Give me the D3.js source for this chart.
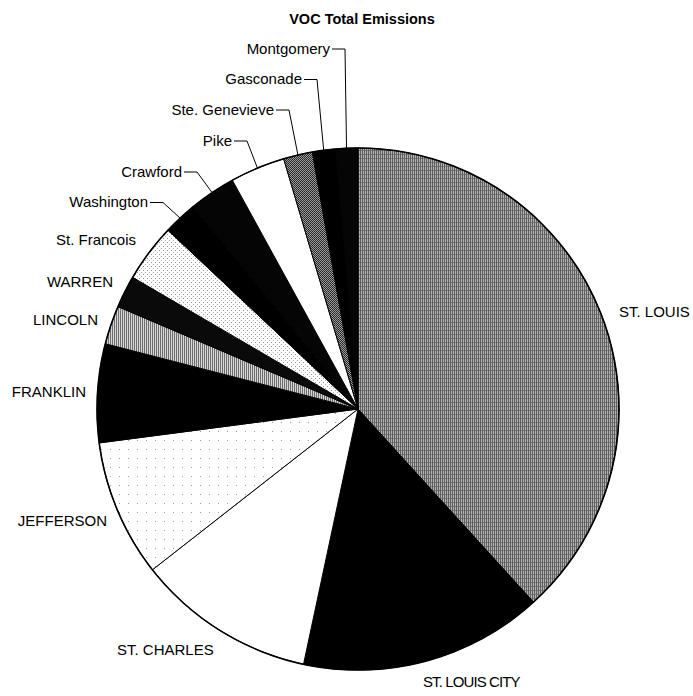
<!DOCTYPE html>
<html>
<head>
<meta charset="utf-8">
<script src="https://cdn.jsdelivr.net/npm/d3@7"></script>
<style>
  html, body { margin: 0; padding: 0; background: #fff; }
  svg { display: block; }
  text { font-family: "Liberation Sans", Arial, sans-serif; fill: #000; }
</style>
</head>
<body>
<div id="chart"></div>
<script>
// ---- data (share of total VOC emissions, %) ----
const title = "VOC Total Emissions";
const counties = ["ST. LOUIS", "ST. LOUIS CITY", "ST. CHARLES", "JEFFERSON", "FRANKLIN",
  "LINCOLN", "WARREN", "St. Francois", "Washington", "Crawford", "Pike",
  "Ste. Genevieve", "Gasconade", "Montgomery"];
const emissions = [38.3, 15.1, 11.1, 8.5, 6.1, 2.4, 2.0, 3.6, 2.1, 2.9, 3.4, 1.8, 1.4, 1.4];

// ---- styles ----
const fills = {
  "ST. LOUIS": "url(#pStl)", "ST. LOUIS CITY": "#000", "ST. CHARLES": "#fff",
  "JEFFERSON": "url(#pJeff)", "FRANKLIN": "#000", "LINCOLN": "url(#pLin)",
  "WARREN": "#0a0a0a", "St. Francois": "url(#pStf)", "Washington": "#000",
  "Crawford": "#050505", "Pike": "#fff", "Ste. Genevieve": "url(#pSteg)",
  "Gasconade": "#000", "Montgomery": "#050505"
};
// label layout: text anchor point (x, baseline y), anchor, leader line flag
const labelLayout = {
  "ST. LOUIS": { x: 619, y: 317, a: "start" },
  "ST. LOUIS CITY": { x: 423, y: 687, a: "start", ls: -0.9 },
  "ST. CHARLES": { x: 117, y: 655, a: "start" },
  "JEFFERSON": { x: 107, y: 526, a: "end" },
  "FRANKLIN": { x: 86, y: 397, a: "end" },
  "LINCOLN": { x: 98, y: 325, a: "end" },
  "WARREN": { x: 113, y: 287, a: "end" },
  "St. Francois": { x: 136, y: 245, a: "end" },
  "Washington": { x: 148, y: 207, a: "end", leader: true },
  "Crawford": { x: 182, y: 176.5, a: "end", leader: true },
  "Pike": { x: 232, y: 145.5, a: "end", leader: true },
  "Ste. Genevieve": { x: 274, y: 114.5, a: "end", leader: true },
  "Gasconade": { x: 302, y: 84, a: "end", leader: true },
  "Montgomery": { x: 330, y: 53.5, a: "end", leader: true }
};

const W = 693, H = 696;
const cx = 358, cy = 409, R = 261;

const svg = d3.select("#chart").append("svg").attr("width", W).attr("height", H);
const defs = svg.append("defs");

function pattern(id, w, h, bg, cells) {
  const p = defs.append("pattern").attr("id", id).attr("patternUnits", "userSpaceOnUse")
    .attr("width", w).attr("height", h);
  p.append("rect").attr("width", w).attr("height", h).attr("fill", bg);
  cells.forEach(c => p.append("rect").attr("x", c[0]).attr("y", c[1])
    .attr("width", c[2]).attr("height", c[3]).attr("fill", c[4]));
}
pattern("pStl", 2, 4, "#b4b4b4", [[0, 0, 1, 4, "#5e5e5e"], [1, 1, 1, 1, "#7a7a7a"]]);
pattern("pLin", 2, 2, "#d6d6d6", [[0, 0, 1, 2, "#6e6e6e"]]);
pattern("pSteg", 2, 2, "#9a9a9a", [[0, 0, 1, 1, "#222"], [1, 1, 1, 1, "#333"]]);
pattern("pJeff", 9, 9, "#fff", [[4, 4, 1, 1, "#9a9a9a"]]);
pattern("pStf", 4, 4, "#fff", [[1, 1, 1, 1, "#909090"], [3, 3, 1, 1, "#b0b0b0"]]);

const data = counties.map((c, i) => ({ name: c, value: emissions[i] }));
const pie = d3.pie().sort(null).value(d => d.value);
const arcs = pie(data);
const arc = d3.arc().innerRadius(0).outerRadius(R);

const g = svg.append("g").attr("transform", `translate(${cx},${cy})`);
g.selectAll("path.slice").data(arcs).join("path")
  .attr("class", "slice")
  .attr("d", arc)
  .attr("fill", d => fills[d.data.name])
  .attr("stroke", "#000")
  .attr("stroke-width", 1);
g.append("circle").attr("r", R).attr("fill", "none").attr("stroke", "#000").attr("stroke-width", 1.6);

// title
svg.append("text").attr("x", 362).attr("y", 24).attr("text-anchor", "middle")
  .style("font-size", "14.5px").style("font-weight", "bold").text(title);

// labels
const lab = svg.append("g");
arcs.forEach(d => {
  const L = labelLayout[d.data.name];
  const t = lab.append("text").attr("x", L.x).attr("y", L.y).attr("text-anchor", L.a)
    .style("font-size", "15px").text(d.data.name);
  if (L.ls) t.style("letter-spacing", L.ls + "px");
  if (L.leader) {
    const mid = (d.startAngle + d.endAngle) / 2;
    const px = cx + R * Math.sin(mid), py = cy - R * Math.cos(mid);
    const ly = L.y - 4.5;
    lab.append("path")
      .attr("d", d3.line()([[L.x + 2, ly], [L.x + 15, ly], [px, py]]))
      .attr("fill", "none").attr("stroke", "#000").attr("stroke-width", 1);
  }
});
</script>
</body>
</html>
